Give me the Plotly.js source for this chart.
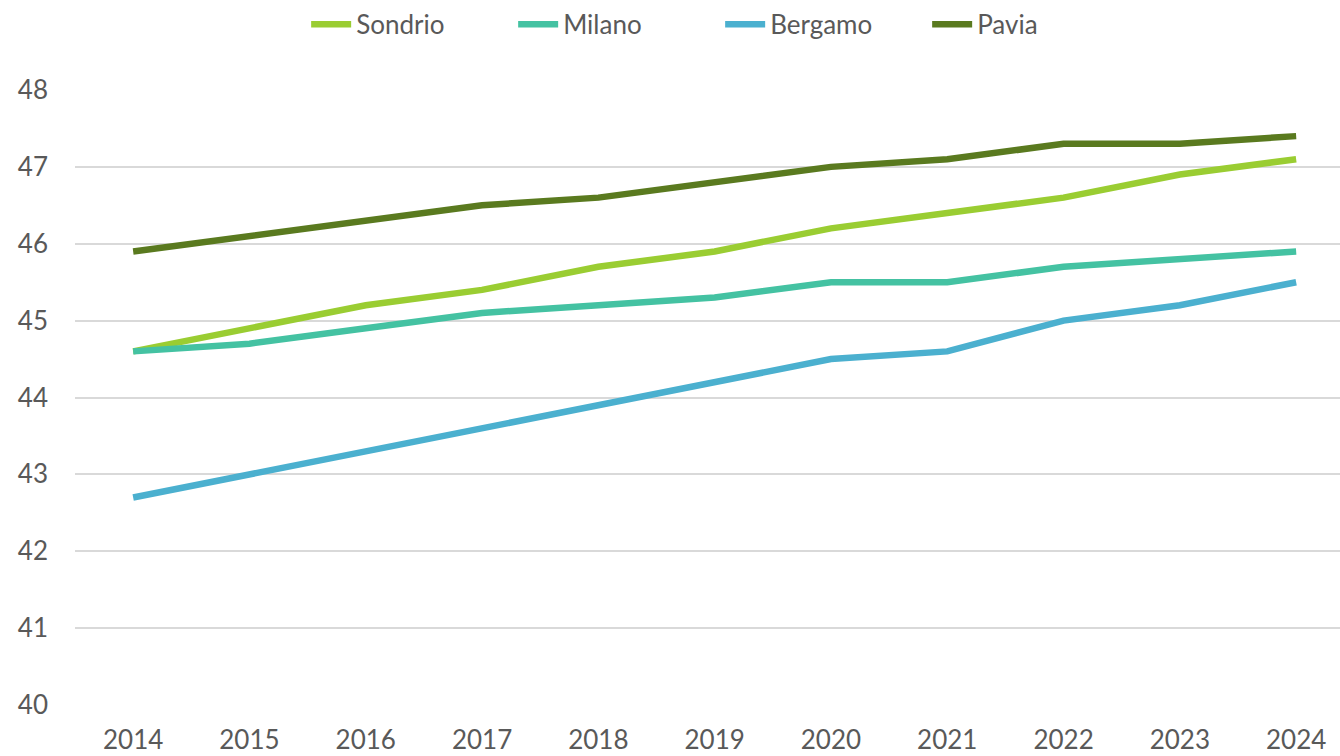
<!DOCTYPE html>
<html>
<head>
<meta charset="utf-8">
<script src="https://cdn.plot.ly/plotly-3.0.1.min.js"></script>
<style>
  html, body { margin: 0; padding: 0; background: #fff; }
  #graph { width: 1340px; height: 756px; }
</style>
</head>
<body>
<div id="graph"></div>
<script>
const years = ['2014', '2015', '2016', '2017', '2018', '2019', '2020', '2021', '2022', '2023', '2024'];

const sondrio = [44.6, 44.9, 45.2, 45.4, 45.7, 45.9, 46.2, 46.4, 46.6, 46.9, 47.1];
const milano = [44.6, 44.7, 44.9, 45.1, 45.2, 45.3, 45.5, 45.5, 45.7, 45.8, 45.9];
const bergamo = [42.7, 43.0, 43.3, 43.6, 43.9, 44.2, 44.5, 44.6, 45.0, 45.2, 45.5];
const pavia = [45.9, 46.1, 46.3, 46.5, 46.6, 46.8, 47.0, 47.1, 47.3, 47.3, 47.4];

const yTicks = [40, 41, 42, 43, 44, 45, 46, 47, 48];

function makeLine(name, values, color) {
    return {
        x: years,
        y: values,
        name: name,
        mode: 'lines',
        type: 'scatter',
        line: {color: color, width: 6.5},
        hovertemplate: '<b>' + name + '</b>: %{y}<extra></extra>'
    };
}

const traces = [
    makeLine('Sondrio', sondrio, '#9acd32'),
    makeLine('Milano', milano, '#44c2a2'),
    makeLine('Bergamo', bergamo, '#4bb0cf'),
    makeLine('Pavia', pavia, '#5a7a1f')
];

const layout = {
    width: 1340,
    height: 756,
    paper_bgcolor: '#ffffff',
    plot_bgcolor: '#ffffff',
    font: {family: 'Lato, "Open Sans", sans-serif', size: 26, color: '#595959'},
    margin: {l: 75, r: 0, t: 90, b: 51},
    showlegend: true,
    legend: {
        orientation: 'h',
        x: 0.51,
        xanchor: 'center',
        y: 1.145,
        yanchor: 'top',
        font: {size: 26, color: '#595959'},
        itemwidth: 40,
        entrywidth: 152,
        entrywidthmode: 'pixels',
        tracegroupgap: 0
    },
    xaxis: {
        type: 'category',
        range: [-0.5, 10.377],
        showgrid: false,
        zeroline: false,
        showline: false,
        ticks: '',
        tickfont: {size: 26, color: '#595959'},
        ticklabelstandoff: 17,
        fixedrange: true
    },
    yaxis: {
        range: [40, 48],
        tickvals: yTicks,
        ticktext: yTicks.map(String),
        showgrid: true,
        gridcolor: '#d9d9d9',
        gridwidth: 2,
        zeroline: false,
        showline: false,
        ticks: '',
        tickfont: {size: 26, color: '#595959'},
        ticklabelstandoff: 26,
        fixedrange: true
    }
};

const config = {
    displayModeBar: false,
    responsive: false
};

Plotly.newPlot('graph', traces, layout, config);
</script>
</body>
</html>
